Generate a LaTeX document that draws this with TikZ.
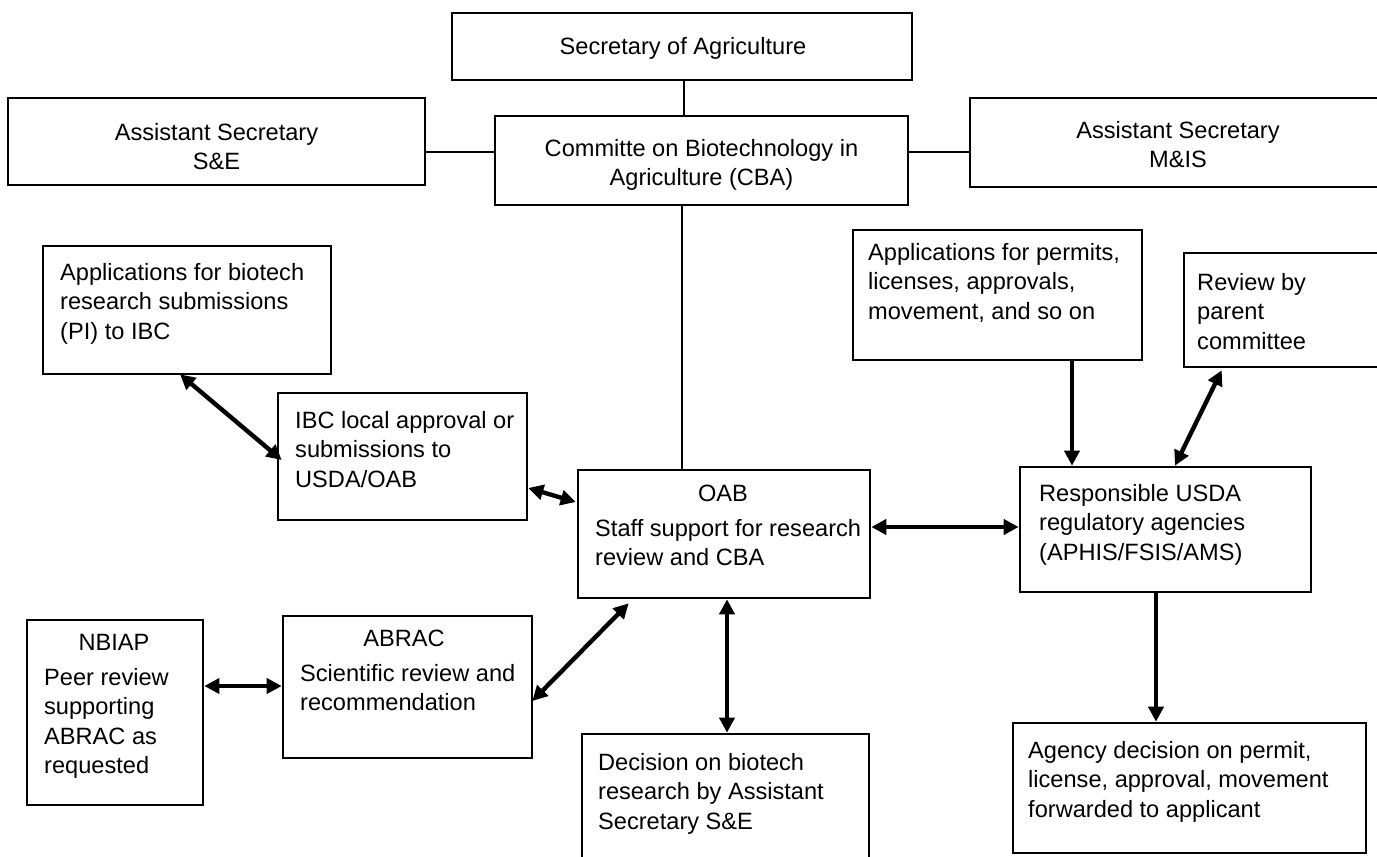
\documentclass[tikz,border=0pt]{standalone}
\usepackage{fontspec}
\setmainfont{Liberation Sans}
\usetikzlibrary{arrows.meta,calc}
\begin{document}
\begin{tikzpicture}[x=1pt,y=-1pt,
  box/.style={draw, line width=2.6pt, inner sep=0pt},
  txt/.style={inner sep=0pt, align=left, font=\fontsize{23.6}{29.3}\selectfont},
  ctxt/.style={txt, align=center},
  ln/.style={line width=2.6pt},
  onearrow/.style={line width=4.4pt, -{Triangle[length=15pt,width=15pt]}},
  dbl/.style={line width=4.4pt, {Triangle[length=15pt,width=15pt]}-{Triangle[length=15pt,width=15pt]}}]
\useasboundingbox (0,0) rectangle (1377,857);
\fill[white] (0,0) rectangle (1377,857);

% boxes
\node[box, minimum width=460pt, minimum height=67pt]  (sec)      at (682,46.5) {};
\node[box, minimum width=417pt, minimum height=87pt]  (asse)     at (216.5,141.5) {};
\node[box, minimum width=413pt, minimum height=89pt]  (cba)      at (701.5,160.5) {};
\node[box, minimum width=416pt, minimum height=89pt]  (asmis)    at (1178,142.5) {};
\node[box, minimum width=288pt, minimum height=128pt] (apppi)    at (187,310) {};
\node[box, minimum width=249pt, minimum height=127pt] (ibc)      at (402.5,456.5) {};
\node[box, minimum width=292pt, minimum height=128pt] (oab)      at (724,534) {};
\node[box, minimum width=289pt, minimum height=130pt] (appperm)  at (997.5,295) {};
\node[box, minimum width=208pt, minimum height=114pt] (review)   at (1288,310) {};
\node[box, minimum width=291pt, minimum height=125pt] (resp)     at (1165.5,529.5) {};
\node[box, minimum width=176pt, minimum height=185pt] (nbiap)    at (115,712.5) {};
\node[box, minimum width=249pt, minimum height=142pt] (abrac)    at (407.5,687) {};
\node[box, minimum width=287pt, minimum height=146pt] (decision) at (725.5,807) {};
\node[box, minimum width=353pt, minimum height=130pt] (agency)   at (1189.5,788) {};

% texts
\node[ctxt, anchor=north] (sect) at (683,34) {\strut Secretary of Agriculture};
\node[ctxt, anchor=north] (asset) at (216.5,119.7) {\strut Assistant Secretary\\S\&E};
\node[ctxt, anchor=north] (cbat) at (701.5,135.7) {\strut Committe on Biotechnology in\\Agriculture (CBA)};
\node[ctxt, anchor=north] (asmist) at (1178,117.7) {\strut Assistant Secretary\\M\&IS};
\node[txt, anchor=north west] (apppit) at (60,259.7) {\strut Applications for biotech\\research submissions\\(PI) to IBC};
\node[txt, anchor=north west] (ibct) at (295,407.7) {\strut IBC local approval or\\submissions to\\USDA/OAB};
\node[ctxt, anchor=north] (oabt) at (723,480.7) {\strut OAB};
\node[txt, anchor=north west] (oabb) at (595,515.7) {\strut Staff support for research\\review and CBA};
\node[txt, anchor=north west] (apppermt) at (868,239.7) {\strut Applications for permits,\\licenses, approvals,\\movement, and so on};
\node[txt, anchor=north west] (reviewt) at (1197,269.7) {\strut Review by\\parent\\committee};
\node[txt, anchor=north west] (respt) at (1039,480.7) {\strut Responsible USDA\\regulatory agencies\\(APHIS/FSIS/AMS)};
\node[ctxt, anchor=north] (nbiapt) at (114,629.7) {\strut NBIAP};
\node[txt, anchor=north west] (nbiapb) at (44,664.7) {\strut Peer review\\supporting\\ABRAC as\\requested};
\node[ctxt, anchor=north] (abract) at (404,625.7) {\strut ABRAC};
\node[txt, anchor=north west] (abracb) at (300,660.7) {\strut Scientific review and\\recommendation};
\node[txt, anchor=north west] (decisiont) at (598,749.7) {\strut Decision on biotech\\research by Assistant\\Secretary S\&E};
\node[txt, anchor=north west] (agencyt) at (1028,737.7) {\strut Agency decision on permit,\\license, approval, movement\\forwarded to applicant};

% plain connectors
\coordinate (c0) at ($(sec.south)+(2,0)$);
\draw[ln] (c0) -- (c0 |- cba.north);
\coordinate (c1) at ($(asse.east)+(0,10.5)$);
\draw[ln] (c1) -- (c1 -| cba.west);
\coordinate (c2) at ($(asmis.west)+(0,9.5)$);
\draw[ln] (c2) -- (c2 -| cba.east);
\draw[ln] (sec.south |- cba.south) -- (sec.south |- oab.north);

% arrows
\draw[dbl] ($(apppi.south)+(-7,-1)$) -- ($(ibc.west)+(5,3.5)$);
\draw[dbl] ($(ibc.east)+(0,31.5)$) -- ($(oab.west)+(-1,-32)$);
\coordinate (c3) at ($(oab.east)+(0,-7)$);
\draw[dbl] (c3) -- (c3 -| resp.west);
\coordinate (c4) at ($(appperm.south)+(74.5,0)$);
\draw[onearrow] (c4) -- (c4 |- resp.north);
\draw[dbl] ($(review.south west)+(39,2)$) -- ($(resp.north)+(9.5,0)$);
\coordinate (c5) at ($(nbiap.east)+(0,-26.5)$);
\draw[dbl] (c5) -- (c5 -| abrac.west);
\draw[dbl] ($(abrac.east)+(-1,14)$) -- ($(oab.south west)+(52,4)$);
\coordinate (c6) at ($(oab.south)+(3,0)$);
\draw[dbl] (c6) -- (c6 |- decision.north);
\coordinate (c7) at ($(resp.south)+(-9.5,0)$);
\draw[onearrow] (c7) -- (c7 |- agency.north);
\end{tikzpicture}
\end{document}
